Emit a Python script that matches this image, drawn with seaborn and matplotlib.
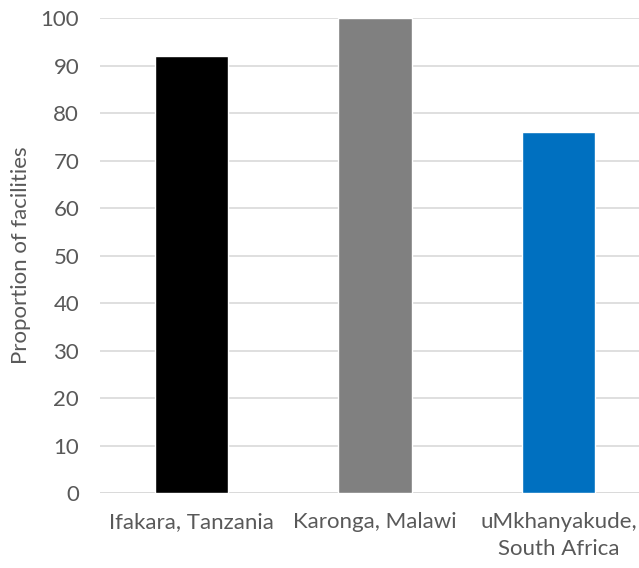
import matplotlib
matplotlib.use("Agg")
import matplotlib.pyplot as plt
import seaborn as sns
import pandas as pd

# data
sites = ["Ifakara, Tanzania", "Karonga, Malawi", "uMkhanyakude,\nSouth Africa"]
proportion = [92, 100, 76]
bar_colors = ["#000000", "#808080", "#0070C0"]

df = pd.DataFrame({"site": sites, "proportion": proportion})

sns.set_theme(style="white")
plt.rcParams["font.family"] = ["Lato", "DejaVu Sans"]

fig = plt.figure(figsize=(6.39, 5.68), dpi=100)
ax = fig.add_axes([0.1565, 0.132, 0.861, 0.836])

sns.barplot(data=df, x="site", y="proportion", hue="site", palette=bar_colors,
            width=0.4, saturation=1, legend=False, ax=ax, zorder=3)

ax.set_ylim(0, 100)
ax.set_yticks(range(0, 101, 10))
ax.set_xlim(-0.5, 2.5)
ax.yaxis.grid(True, color="#d9d9d9", linewidth=1.2, zorder=0)
ax.set_axisbelow(True)
for s in ax.spines.values():
    s.set_visible(False)
ax.axhline(0, color="#d9d9d9", linewidth=1.2, zorder=1)

ax.set_xlabel("")
ax.set_ylabel("Proportion of facilities", fontsize=16, color="#595959", labelpad=7)
ax.tick_params(axis="both", length=0, labelsize=16, labelcolor="#595959")
ax.tick_params(axis="x", pad=14)
ax.tick_params(axis="y", pad=15)
for lbl in ax.get_xticklabels():
    lbl.set_linespacing(1.4)

fig.savefig("out.png", dpi=100)
